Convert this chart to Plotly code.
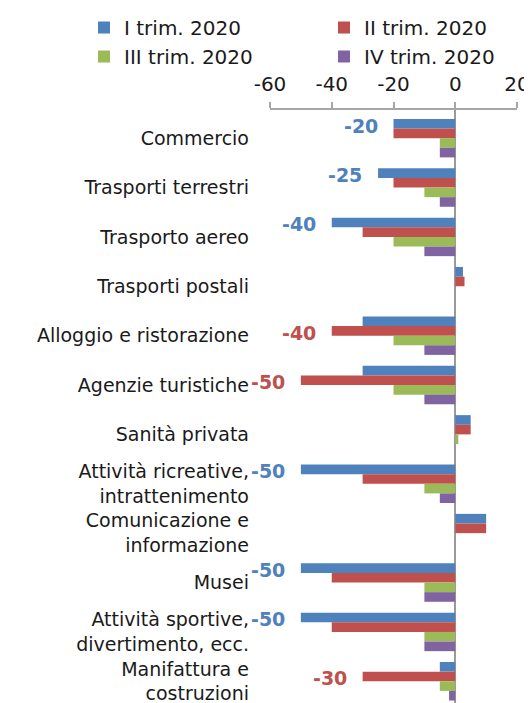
import plotly.graph_objects as go

# Sectors (top to bottom)
categories = [
    "Commercio",
    "Trasporti terrestri",
    "Trasporto aereo",
    "Trasporti postali",
    "Alloggio e ristorazione",
    "Agenzie turistiche",
    "Sanità privata",
    "Attività ricreative,<br>intrattenimento",
    "Comunicazione e<br>informazione",
    "Musei",
    "Attività sportive,<br>divertimento, ecc.",
    "Manifattura e<br>costruzioni",
]

series_names = ["I trim. 2020", "II trim. 2020", "III trim. 2020", "IV trim. 2020"]

q1 = [-20, -25, -40, 2.5, -30, -30, 5, -50, 10, -50, -50, -5]
q2 = [-20, -20, -30, 3, -40, -50, 5, -30, 10, -40, -40, -30]
q3 = [-5, -10, -20, 0, -20, -20, 1, -10, 0, -10, -10, -5]
q4 = [-5, -5, -10, 0, -10, -10, 0, -5, 0, -10, -10, -2]

x_ticks = [-60, -40, -20, 0, 20]

# highlighted values: (category index, series index)
label_cats = [0, 1, 2, 4, 5, 7, 9, 10, 11]
label_series = [0, 0, 0, 1, 1, 0, 0, 0, 1]

colors = ["#4F81BD", "#C0504D", "#9BBB59", "#8064A2"]
FONT = "DejaVu Sans"
BARGAP = 0.22

values = [q1, q2, q3, q4]

fig = go.Figure()
for name, vals, col in zip(series_names, values, colors):
    fig.add_trace(go.Bar(
        y=list(range(len(categories))),
        x=vals,
        name=name,
        orientation="h",
        marker=dict(color=col, line=dict(width=0)),
    ))

# value labels left of the highlighted bars
slot = (1 - BARGAP) / len(values)
for ci, si in zip(label_cats, label_series):
    v = values[si][ci]
    fig.add_annotation(
        x=v,
        y=ci + (si - 1.5) * slot,
        text=f"<b>{v:g}</b>",
        showarrow=False,
        xanchor="right",
        yanchor="middle",
        xshift=-14,
        yshift=-2,
        font=dict(family=FONT, size=19, color=colors[si]),
    )

# page body has an 8px margin, so the figure is laid out 8px up/left
fig.update_layout(
    width=532,
    height=703,
    barmode="group",
    bargap=BARGAP,
    bargroupgap=0,
    plot_bgcolor="white",
    paper_bgcolor="white",
    margin=dict(l=262, r=23, t=102, b=8, autoexpand=False),
    font=dict(family=FONT, size=19, color="#1a1a1a"),
    showlegend=True,
    legend=dict(
        orientation="h",
        x=-0.753,
        y=1.172,
        xanchor="left",
        yanchor="top",
        entrywidth=195,
        entrywidthmode="pixels",
        traceorder="normal",
        font=dict(family=FONT, size=20, color="#1a1a1a"),
        bgcolor="rgba(0,0,0,0)",
    ),
    xaxis=dict(
        side="top",
        range=[-60, 20],
        tickmode="array",
        tickvals=x_ticks,
        ticktext=[str(t) for t in x_ticks],
        ticks="outside",
        ticklen=6,
        tickwidth=2,
        tickcolor="#a6a6a6",
        showline=True,
        linecolor="#a6a6a6",
        linewidth=2,
        showgrid=False,
        zeroline=True,
        zerolinecolor="#9a9a9a",
        zerolinewidth=2,
        ticklabelstandoff=3,
        tickfont=dict(family=FONT, size=20, color="#1a1a1a"),
    ),
    yaxis=dict(
        tickmode="array",
        tickvals=list(range(len(categories))),
        ticktext=categories,
        range=[11.44, -0.57],
        showline=False,
        showgrid=False,
        zeroline=False,
        ticks="",
        ticklabelstandoff=20,
        tickfont=dict(family=FONT, size=19, color="#1a1a1a"),
    ),
)

fig.write_html("out.html")
